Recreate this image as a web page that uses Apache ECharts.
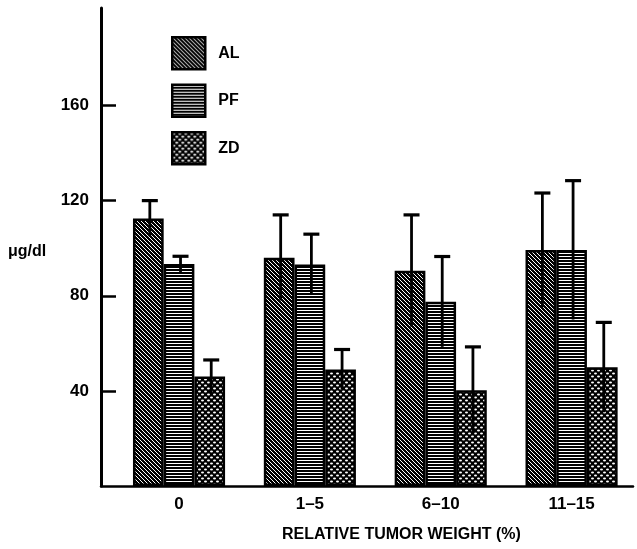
<!DOCTYPE html>
<html>
<head>
<meta charset="utf-8">
<script src="https://cdn.jsdelivr.net/npm/echarts@6/dist/echarts.min.js"></script>
<style>
html,body{margin:0;padding:0;background:#fff;}
#chart{width:637px;height:549px;}
</style>
</head>
<body>
<div id="chart"></div>
<script>
// ---- data ----
var categories = ['0', '1–5', '6–10', '11–15'];
var seriesNames = ['AL', 'PF', 'ZD'];
var alValues = [112.5, 96, 90.5, 99.2];
var alErrors = [7.5, 18, 23.5, 24];
var pfValues = [93.3, 93.1, 77.5, 99.2];
var pfErrors = [3.3, 12.8, 19, 29.2];
var zdValues = [46, 49, 40.3, 49.9];
var zdErrors = [7, 8.4, 18.2, 18.9];
var yTickValues = [40, 80, 120, 160];
var yMax = 201;
var xTitle = 'RELATIVE TUMOR WEIGHT (%)';
var yTitle = 'μg/dl';

// ---- patterns (style only) ----
function makePattern(kind) {
  var c = document.createElement('canvas');
  var ctx;
  if (kind === 'diag') {
    c.width = 8; c.height = 8; ctx = c.getContext('2d');
    ctx.fillStyle = '#000'; ctx.fillRect(0, 0, 8, 8);
    ctx.strokeStyle = '#fff'; ctx.lineWidth = 1.0;
    for (var k = -8; k <= 16; k += 4) {
      ctx.beginPath(); ctx.moveTo(k, 0); ctx.lineTo(k + 8, 8); ctx.stroke();
    }
  } else if (kind === 'horiz') {
    c.width = 4; c.height = 3; ctx = c.getContext('2d');
    ctx.fillStyle = '#000'; ctx.fillRect(0, 0, 4, 3);
    ctx.fillStyle = '#fff'; ctx.fillRect(0, 1, 4, 1);
  } else {
    c.width = 6; c.height = 6; ctx = c.getContext('2d');
    ctx.fillStyle = '#000'; ctx.fillRect(0, 0, 6, 6);
    ctx.fillStyle = '#fff';
    [[1.5, 1.5], [4.5, 4.5]].forEach(function (p) {
      ctx.beginPath(); ctx.ellipse(p[0], p[1], 1.5, 1.1, 0, 0, Math.PI * 2); ctx.fill();
    });
  }
  return { image: c, repeat: 'repeat' };
}
var patterns = [makePattern('diag'), makePattern('horiz'), makePattern('dots')];

var values = [alValues, pfValues, zdValues];
var errors = [alErrors, pfErrors, zdErrors];
var barWidth = 30.7;
var FONT = "'Liberation Sans', Arial, sans-serif";

var series = [];
seriesNames.forEach(function (name, s) {
  series.push({
    name: name,
    type: 'bar',
    xAxisIndex: 1, yAxisIndex: 1,
    data: values[s],
    barWidth: barWidth,
    barGap: '0%',
    itemStyle: { color: patterns[s], borderColor: '#000', borderWidth: 2.5 },
    emphasis: { disabled: true },
    animation: false,
    z: 2
  });
});
seriesNames.forEach(function (name, s) {
  var d = values[s].map(function (v, i) { return [i, v, errors[s][i]]; });
  series.push({
    type: 'custom',
    xAxisIndex: 1, yAxisIndex: 1,
    data: d,
    encode: { x: 0, y: 1 },
    z: 5,
    silent: true,
    animation: false,
    renderItem: function (params, api) {
      var i = api.value(0), v = api.value(1), e = api.value(2);
      var off = (s - 1) * barWidth + 1.5;
      var top = api.coord([i, v + e]);
      var bot = api.coord([i, v - e]);
      var x = top[0] + off;
      var st = { stroke: '#000', lineWidth: 2.8 };
      return {
        type: 'group',
        children: [
          { type: 'line', shape: { x1: x, y1: top[1], x2: x, y2: bot[1] }, style: st },
          { type: 'line', shape: { x1: x - 8, y1: top[1], x2: x + 8, y2: top[1] }, style: { stroke: '#000', lineWidth: 3.2 } }
        ]
      };
    }
  });
});

var chart = echarts.init(document.getElementById('chart'), null, { renderer: 'canvas' });
chart.setOption({
  backgroundColor: '#fff',
  animation: false,
  textStyle: { fontFamily: FONT },
  grid: [
    { left: 101, right: 4, top: 8, bottom: 63, containLabel: false },
    { left: 113.6, right: -7.6, top: 8, bottom: 63, containLabel: false }
  ],
  legend: {
    data: seriesNames,
    orient: 'vertical',
    left: 171, top: 36,
    padding: 0,
    itemWidth: 33, itemHeight: 32, itemGap: 13,
    icon: 'rect',
    itemStyle: { borderColor: '#000', borderWidth: 2.5 },
    textStyle: { fontFamily: FONT, fontSize: 16, fontWeight: 'bold', color: '#000', padding: [0, 0, 0, 8] },
    selectedMode: false
  },
  xAxis: [
    {
      type: 'value', gridIndex: 0, min: 0, max: 1,
      axisLine: { show: true, onZero: false, lineStyle: { color: '#000', width: 2.5 } },
      axisTick: { show: false }, axisLabel: { show: false }, splitLine: { show: false }
    },
    {
      type: 'category', gridIndex: 1, data: categories,
      axisLine: { show: false }, axisTick: { show: false }, splitLine: { show: false },
      axisLabel: { margin: 10, color: '#000', fontSize: 17, fontWeight: 'bold', fontFamily: FONT }
    }
  ],
  yAxis: [
    {
      type: 'value', gridIndex: 0, min: 0, max: yMax,
      axisLine: { show: true, lineStyle: { color: '#000', width: 3 } },
      axisTick: { show: true, inside: true, length: 15, lineStyle: { color: '#000', width: 2.5 }, customValues: yTickValues },
      axisLabel: { margin: 12, color: '#000', fontSize: 17, fontWeight: 'bold', fontFamily: FONT, customValues: yTickValues },
      splitLine: { show: false }
    },
    {
      type: 'value', gridIndex: 1, min: 0, max: yMax, show: false
    }
  ],
  graphic: [
    { type: 'text', left: 8, top: 244, style: { text: yTitle, fontSize: 16, fontWeight: 'bold', fontFamily: FONT, fill: '#000' } },
    { type: 'text', left: 282, top: 527, style: { text: xTitle, fontSize: 16, fontWeight: 'bold', fontFamily: FONT, fill: '#000' } }
  ],
  series: series
});
</script>
</body>
</html>
